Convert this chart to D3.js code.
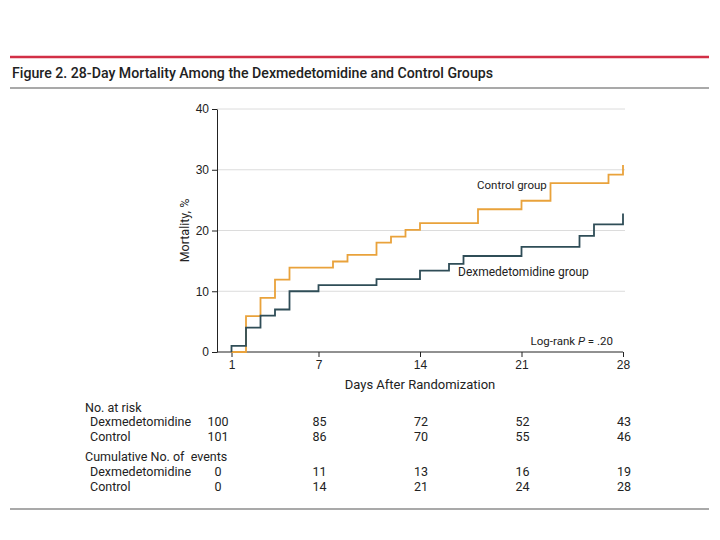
<!DOCTYPE html>
<html>
<head>
<meta charset="utf-8">
<script src="https://cdn.jsdelivr.net/npm/d3@7"></script>
<style>
  body { margin: 0; background: #fff; }
  svg { font-family: Roboto, "Noto Sans", sans-serif; }
</style>
</head>
<body>
<svg id="chart" width="720" height="540"></svg>
<script>
// step points: [day, mortality %]
const dexSteps = [[1, 0], [1, 1], [2, 4], [3, 6], [4, 7], [5, 10], [7, 11], [11, 12], [14, 13.4], [16, 14.5], [17, 15.8], [21, 17.3], [25, 19.1], [26, 21], [28, 22.8]]
const controlSteps = [[1, 0], [2, 5.9], [3, 8.9], [4, 11.9], [5, 13.9], [8, 14.9], [9, 16], [11, 18], [12, 19], [13, 20.1], [14, 21.2], [18, 23.5], [21, 24.9], [23, 27.8], [27, 29.2], [28, 30.8]]

const xTicks = [1, 7, 14, 21, 28]
const yTicks = [0, 10, 20, 30, 40]

const tableDays = [0, 7, 14, 21, 28]
const riskDex = [100, 85, 72, 52, 43]
const riskControl = [101, 86, 70, 55, 46]
const eventsDex = [0, 11, 13, 16, 19]
const eventsControl = [0, 14, 21, 24, 28]

const orange = "#e9a23b"
const slate = "#2f4d57"

const svg = d3.select("#chart")

// frame lines + title
svg.append("line").attr("x1", 10).attr("x2", 709).attr("y1", 57).attr("y2", 57)
    .style("stroke", "#d22f46").style("stroke-width", 2.5)
svg.append("text").attr("x", 12).attr("y", 78)
    .attr("textLength", 481).attr("lengthAdjust", "spacingAndGlyphs")
    .style("font-size", "15px").style("font-weight", "500").style("fill", "#222")
    .text("Figure 2. 28-Day Mortality Among the Dexmedetomidine and Control Groups")
svg.append("line").attr("x1", 10).attr("x2", 709).attr("y1", 88).attr("y2", 88)
    .style("stroke", "#555").style("stroke-width", 1.2)
svg.append("line").attr("x1", 10).attr("x2", 709).attr("y1", 509).attr("y2", 509)
    .style("stroke", "#555").style("stroke-width", 1.2)

var xScale = d3.scaleLinear().domain([0, 28]).range([217, 623]),
    yScale = d3.scaleLinear().domain([0, 40]).range([352, 109]);

// grid
svg.append("g")
    .selectAll("line")
    .data(yTicks.filter(d => d > 0))
    .enter()
    .append("line")
    .attr("x1", xScale(0)).attr("x2", xScale(28) + 2)
    .attr("y1", d => yScale(d)).attr("y2", d => yScale(d))
    .style("stroke", "#dcdcdc").style("stroke-width", 1)

// axes
var xAxis = svg.append("g")
    .attr("transform", "translate(0," + yScale(0) + ")")
    .call(d3.axisBottom(xScale).tickValues(xTicks).tickSize(5).tickSizeOuter(0))
xAxis.select(".domain").attr("d", "M" + xScale(0) + ",0H" + xScale(28))
var yAxis = svg.append("g")
    .attr("transform", "translate(" + xScale(0) + ",0)")
    .call(d3.axisLeft(yScale).tickValues(yTicks).tickSize(5).tickSizeOuter(0))

svg.selectAll(".tick text").style("font-size", "12px").style("fill", "#222").style("font-family", "inherit")
svg.selectAll(".domain, .tick line").style("stroke", "#222")

svg.append("text").attr("x", xScale(14)).attr("y", 389).attr("text-anchor", "middle")
    .style("font-size", "13px").style("fill", "#222").text("Days After Randomization")
svg.append("text").attr("transform", "translate(189," + yScale(20) + ") rotate(-90)")
    .attr("text-anchor", "middle").style("font-size", "12.5px").style("fill", "#222").text("Mortality, %")

// curves
var line = d3.line()
    .x(function (d) { return xScale(d[0]); })
    .y(function (d) { return yScale(d[1]); })
    .curve(d3.curveStepAfter)

svg.append("path").datum(controlSteps).attr("d", line)
    .style("fill", "none").style("stroke", orange).style("stroke-width", 1.8)
svg.append("path").datum(dexSteps).attr("d", line)
    .style("fill", "none").style("stroke", slate).style("stroke-width", 1.8)

svg.append("text").attr("x", 477).attr("y", 189).style("font-size", "11.5px").style("fill", "#222").text("Control group")
svg.append("text").attr("x", 458).attr("y", 276).style("font-size", "12px").style("fill", "#222").text("Dexmedetomidine group")
var lr = svg.append("text").attr("x", 613).attr("y", 345).attr("text-anchor", "end")
    .style("font-size", "11.5px").style("fill", "#222")
lr.append("tspan").text("Log-rank ")
lr.append("tspan").style("font-style", "italic").text("P")
lr.append("tspan").text(" = .20")

// risk table
const rows = [
    { label: "No. at risk", y: 412, head: true },
    { label: "Dexmedetomidine", y: 426, vals: riskDex },
    { label: "Control", y: 441, vals: riskControl },
    { label: "Cumulative No. of  events", y: 461, head: true },
    { label: "Dexmedetomidine", y: 476, vals: eventsDex },
    { label: "Control", y: 491, vals: eventsControl }
]
rows.forEach(r => {
    svg.append("text").attr("x", r.head ? 85 : 90).attr("y", r.y)
        .style("font-size", "12.5px").style("fill", "#222").style("white-space", "pre").text(r.label)
    if (r.vals) {
        svg.append("g").selectAll("text").data(r.vals).enter().append("text")
            .attr("x", (d, i) => xScale(tableDays[i]) + 1)
            .attr("y", r.y)
            .attr("text-anchor", "middle")
            .style("font-size", "12.5px").style("fill", "#222")
            .text(d => d)
    }
})
</script>
</body>
</html>
